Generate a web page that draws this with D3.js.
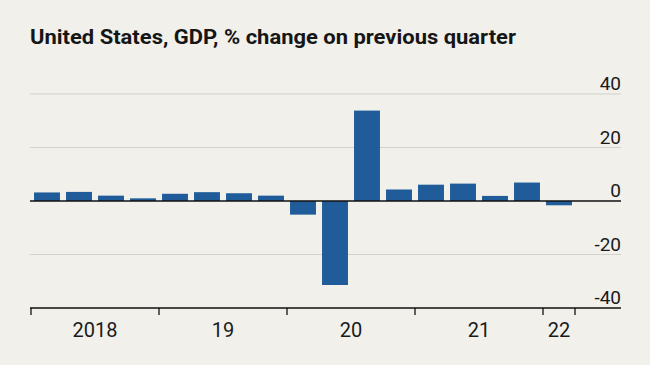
<!DOCTYPE html>
<html><head><meta charset="utf-8">
<script src="https://cdn.jsdelivr.net/npm/d3@7"></script>
<style>
html,body{margin:0;padding:0;background:#f1f0eb;}
svg{display:block;}
</style></head>
<body>
<script>
const quarters = ["2018Q1","2018Q2","2018Q3","2018Q4","2019Q1","2019Q2","2019Q3","2019Q4","2020Q1","2020Q2","2020Q3","2020Q4","2021Q1","2021Q2","2021Q3","2021Q4","2022Q1"];
const values = [3.2,3.4,2.0,1.0,2.7,3.3,2.9,2.0,-5.1,-31.4,33.8,4.3,6.1,6.5,1.9,6.9,-1.6];
const yearLabels = ["2018","19","20","21","22"];
const yearStarts = ["2018Q1","2019Q1","2020Q1","2021Q1","2022Q1"];
const yTicks = [-40,-20,0,20,40];
const title = "United States, GDP, % change on previous quarter";

const W = 650, H = 365;
const svg = d3.select("body").append("svg").attr("width", W).attr("height", H);
svg.append("rect").attr("width", W).attr("height", H).attr("fill", "#f1f0eb");

const font = "'Liberation Sans Narrow','Roboto','Open Sans',sans-serif";

svg.append("text").attr("x", 30).attr("y", 44)
  .attr("font-family", font).attr("font-weight", "bold").attr("font-size", 21)
  .attr("fill", "#161616").attr("textLength", 486).attr("lengthAdjust", "spacingAndGlyphs")
  .text(title);

const left = 30, right = 621;
const x = d3.scaleBand().domain(quarters).range([31, 575]).paddingInner(0.19).paddingOuter(0.095);
const y = d3.scaleLinear().domain([-40, 40]).range([308, 94]);

// gridlines
svg.append("g").selectAll("line").data(yTicks.filter(d => d !== 0 && d !== -40)).join("line")
  .attr("x1", left).attr("x2", right).attr("y1", d => y(d)).attr("y2", d => y(d))
  .attr("stroke", "#d2d1cc").attr("stroke-width", 1);

// y labels
svg.append("g").selectAll("text").data(yTicks).join("text")
  .attr("x", right).attr("y", d => y(d) - 4).attr("text-anchor", "end")
  .attr("font-family", font).attr("font-size", 19).attr("fill", "#1a1a1a")
  .text(d => d);

// bars
svg.append("g").selectAll("rect").data(quarters).join("rect")
  .attr("x", d => x(d)).attr("width", x.bandwidth())
  .attr("y", (d, i) => y(Math.max(0, values[i])))
  .attr("height", (d, i) => Math.abs(y(values[i]) - y(0)))
  .attr("fill", "#1f5c99");

// zero line
svg.append("line").attr("x1", left).attr("x2", right).attr("y1", y(0)).attr("y2", y(0))
  .attr("stroke", "#111").attr("stroke-width", 1.6);

// bottom axis
const step = x.step();
const tickPos = yearStarts.map(q => x(q) - x.paddingInner() * step / 2);
tickPos.push(x(quarters[quarters.length - 1]) + x.bandwidth() + x.paddingInner() * step / 2);
const axisY = y(-40);
svg.append("line").attr("x1", left).attr("x2", right).attr("y1", axisY).attr("y2", axisY)
  .attr("stroke", "#111").attr("stroke-width", 1.6);
svg.append("g").selectAll("line").data(tickPos).join("line")
  .attr("x1", d => d).attr("x2", d => d).attr("y1", axisY).attr("y2", axisY + 7)
  .attr("stroke", "#111").attr("stroke-width", 1.3);
svg.append("g").selectAll("text").data(yearLabels).join("text")
  .attr("x", (d, i) => (tickPos[i] + tickPos[i + 1]) / 2).attr("y", axisY + 29)
  .attr("text-anchor", "middle").attr("font-family", font).attr("font-size", 20).attr("fill", "#1a1a1a")
  .text(d => d);
</script>
</body></html>
